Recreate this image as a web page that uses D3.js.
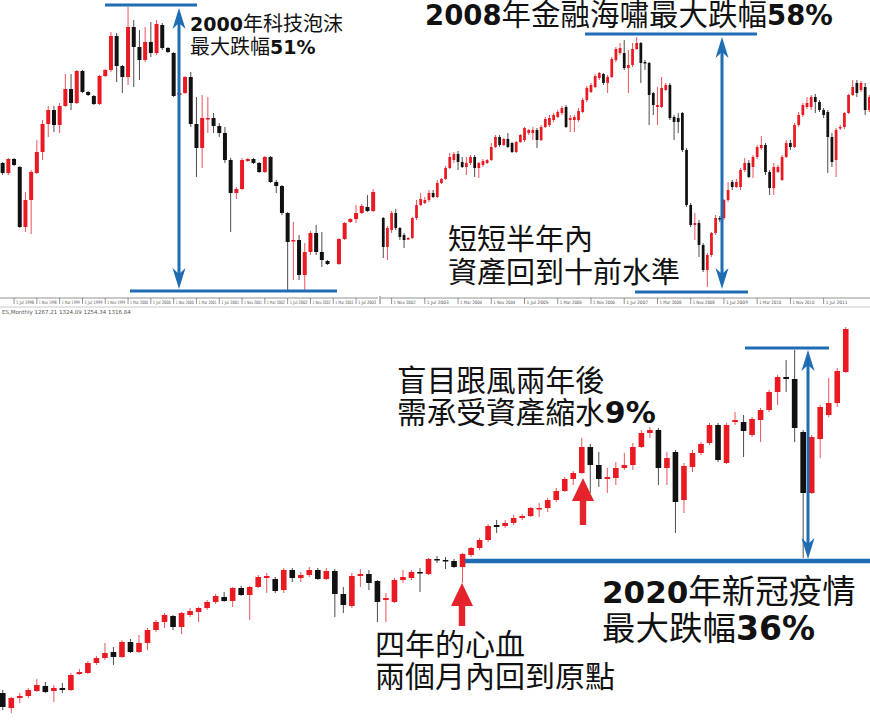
<!DOCTYPE html>
<html>
<head>
<meta charset="utf-8">
<script src="https://cdn.jsdelivr.net/npm/d3@7"></script>
<style>
  body { margin: 0; background: #fff; }
  svg { display: block; }
</style>
</head>
<body>
<svg id="chart" width="870" height="724"></svg>
<script>
// monthly candles [open, high, low, close]
// 1998-2003: dot-com bubble (first month May 1998)
const bubbleStart = [1998, 4];
const bubbleCandles = [
  [1111,1114,1075,1081],[1081,1126,1075,1123],[1123,1126,1102,1105],[1099,1102,916,919],
  [919,1024,904,1000],[1000,1090,898,1084],[1081,1180,1078,1144],[1144,1240,1120,1228],
  [1228,1282,1189,1270],[1270,1282,1204,1225],[1225,1291,1201,1282],[1282,1378,1279,1333],
  [1333,1378,1270,1291],[1291,1390,1288,1387],[1387,1390,1321,1324],[1324,1327,1312,1315],
  [1312,1315,1285,1288],[1288,1375,1285,1372],[1372,1393,1369,1390],[1390,1504,1384,1492],
  [1492,1501,1354,1402],[1402,1405,1321,1369],[1369,1579,1345,1519],[1519,1540,1339,1459],
  [1459,1510,1360,1420],[1420,1519,1414,1474],[1474,1534,1429,1441],[1441,1540,1435,1528],
  [1525,1531,1450,1456],[1456,1459,1441,1444],[1441,1444,1309,1312],[1315,1324,1312,1321],
  [1321,1372,1318,1369],[1369,1384,1219,1228],[1228,1309,1069,1156],[1156,1315,1096,1246],
  [1243,1309,1201,1246],[1246,1261,1201,1222],[1222,1231,1189,1201],[1201,1219,1111,1120],
  [1120,1126,904,1021],[1021,1039,1003,1033],[1033,1126,1030,1120],[1117,1126,1114,1123],
  [1123,1126,1108,1111],[1111,1114,1081,1084],[1084,1132,1081,1129],[1129,1132,1051,1054],
  [1054,1060,1021,1042],[1042,1045,955,961],[961,964,727,874],[877,934,760,880],
  [880,895,760,775],[775,871,730,844],[844,907,835,901],[901,925,835,844],
  [844,904,799,820],[817,820,805,808],null,[808,886,805,883],
  [883,934,880,931],[934,946,931,943],[943,985,931,961],[961,988,958,982],
  [979,1015,964,967],[967,1033,964,1024]
];

// 2002-2012: financial crisis (first month Sep 2002)
const crisisStart = [2002, 8];
const crisisCandles = [
  [946,949,826,859],[859,922,820,916],[910,967,901,961],[961,973,910,916],
  [916,919,880,889],[895,901,856,880],[883,889,880,886],[886,949,883,946],
  [946,1000,940,985],[985,1021,982,1003],[991,1009,988,1000],[1000,1030,994,1021],
  [1021,1030,1006,1009],[1009,1060,1006,1051],[1051,1066,1048,1063],[1063,1102,1060,1096],
  [1096,1141,1093,1129],[1120,1144,1111,1138],[1138,1147,1090,1114],[1114,1129,1096,1099],
  [1099,1129,1075,1111],[1111,1135,1105,1129],[1129,1135,1069,1096],[1096,1114,1066,1111],
  [1105,1123,1099,1117],[1111,1123,1108,1120],[1120,1171,1117,1159],[1159,1195,1156,1189],
  [1189,1195,1159,1165],[1165,1186,1162,1183],[1183,1201,1156,1159],[1171,1174,1141,1144],
  [1144,1177,1141,1174],[1174,1198,1171,1195],[1180,1219,1174,1216],[1201,1213,1195,1210],
  [1201,1219,1180,1210],[1210,1216,1156,1180],[1180,1225,1177,1219],[1219,1249,1216,1243],
  [1225,1255,1219,1246],[1240,1261,1234,1255],[1249,1270,1246,1264],[1261,1282,1255,1276],
  [1279,1285,1216,1219],[1240,1255,1204,1246],[1240,1255,1204,1249],[1240,1276,1234,1267],
  [1264,1306,1261,1300],[1300,1342,1294,1336],[1324,1351,1321,1345],[1339,1378,1336,1372],
  [1366,1384,1360,1381],[1378,1381,1345,1351],[1351,1375,1321,1369],[1369,1429,1366,1423],
  [1420,1459,1414,1453],[1441,1471,1435,1456],[1441,1480,1390,1396],[1396,1450,1321,1405],
  [1405,1471,1399,1453],[1453,1489,1450,1471],[1471,1474,1351,1411],[1414,1420,1390,1411],
  [1411,1414,1225,1315],[1321,1324,1255,1285],[1279,1339,1225,1285],[1279,1369,1276,1336],
  [1330,1351,1327,1345],[1345,1351,1240,1246],[1249,1255,1180,1234],[1246,1261,1201,1234],
  [1261,1264,1144,1150],[1150,1156,979,985],[985,991,919,925],[925,961,880,931],
  [931,940,829,865],[865,871,784,790],[790,841,739,835],[835,904,829,901],
  [901,955,895,946],[946,952,934,943],[946,1003,940,1000],[1000,1054,994,1030],
  [1054,1060,1030,1039],[1039,1063,1036,1054],[1039,1096,1030,1090],[1090,1126,1084,1111],
  [1111,1120,1066,1069],[1099,1135,1066,1129],[1129,1165,1123,1159],[1156,1192,1150,1165],
  [1165,1171,1075,1084],[1084,1090,1015,1036],[1036,1111,1015,1099],[1084,1105,1081,1099],
  [1060,1135,1057,1129],[1129,1180,1126,1171],[1171,1180,1150,1159],[1159,1231,1156,1225],
  [1225,1264,1219,1255],[1255,1291,1249,1285],[1279,1309,1273,1291],[1279,1315,1270,1309],
  [1309,1318,1261,1294],[1294,1300,1264,1270],[1270,1276,1246,1255],[1264,1270,1081,1189],
  [1189,1201,1099,1114],[1120,1216,1069,1210],[1216,1225,1210,1219],[1219,1264,1213,1261],
  [1261,1318,1258,1315],[1315,1360,1312,1339],[1351,1360,1309,1321],[1330,1357,1324,1351],
  [1339,1351,1255,1270],[1270,1315,1264,1309]
];

// 2012-2020: bull market and covid crash (first month May 2012)
const covidStart = [2012, 4];
const covidCandles = [
  [1335,1350,1250,1265],[1260,1315,1235,1310],[1310,1335,1285,1320],[1320,1360,1310,1350],
  [1345,1405,1340,1375],[1370,1390,1335,1340],[1345,1375,1290,1360],[1360,1385,1335,1350],
  [1350,1435,1345,1425],[1430,1455,1425,1440],[1435,1495,1430,1485],[1485,1520,1475,1510],
  [1510,1585,1500,1535],[1540,1565,1475,1515],[1515,1600,1510,1590],[1590,1605,1535,1540],
  [1540,1625,1535,1585],[1585,1660,1550,1650],[1650,1700,1640,1690],[1690,1735,1660,1725],
  [1720,1725,1650,1665],[1665,1740,1630,1735],[1725,1760,1715,1745],[1740,1765,1690,1760],
  [1760,1800,1750,1790],[1790,1830,1780,1820],[1815,1840,1790,1795],[1795,1865,1765,1860],
  [1860,1870,1820,1825],[1825,1870,1700,1865],[1865,1925,1860,1915],[1910,1935,1835,1920],
  [1905,1915,1835,1845],[1850,1960,1835,1950],[1950,1960,1890,1910],[1910,1940,1890,1925],
  [1925,1965,1915,1950],[1950,1960,1900,1905],[1905,1960,1900,1945],[1945,1955,1715,1830],
  [1830,1865,1735,1775],[1770,1935,1760,1920],[1920,1955,1865,1930],[1930,1950,1850,1885],
  [1895,1900,1690,1790],[1800,1835,1690,1810],[1790,1910,1785,1900],[1900,1950,1885,1915],
  [1910,1950,1900,1940],[1940,1960,1840,1935],[1930,2010,1925,2005],[2005,2020,1985,2000],
  [2000,2015,1955,1995],[1995,2005,1960,1965],[1965,2035,1885,2030],[2025,2065,2015,2060],
  [2060,2110,2050,2100],[2100,2180,2090,2170],[2175,2200,2135,2165],[2170,2200,2160,2185],
  [2185,2225,2175,2210],[2210,2230,2200,2220],[2220,2265,2215,2260],[2255,2285,2215,2260],
  [2260,2310,2240,2300],[2300,2360,2290,2345],[2345,2415,2340,2405],[2405,2445,2375,2435],
  [2435,2610,2430,2565],[2565,2580,2335,2475],[2475,2540,2365,2405],[2405,2460,2335,2415],
  [2410,2490,2375,2460],[2460,2535,2450,2475],[2475,2585,2450,2565],[2565,2650,2560,2635],
  [2635,2665,2610,2650],[2650,2660,2375,2460],[2460,2540,2375,2510],[2540,2550,2135,2290],
  [2300,2485,2235,2470],[2465,2550,2440,2535],[2535,2590,2525,2580],[2585,2685,2575,2675],
  [2675,2685,2490,2500],[2485,2685,2480,2675],[2690,2740,2675,2700],[2690,2725,2515,2645],
  [2625,2715,2615,2705],[2700,2760,2590,2750],[2750,2850,2740,2840],[2840,2925,2775,2915],
  [2915,3000,2840,2905],[2905,3050,2590,2660],[2640,2650,2010,2335],[2335,2625,2330,2615],
  [2605,2775,2510,2765],[2725,2910,2715,2785],[2785,2960,2765,2945],[2940,3165,2935,3155]
];

const monthNames = ["Jan","Feb","Mar","Apr","May","Jun","Jul","Aug","Sep","Oct","Nov","Dec"];
const chartInfo = "ES,Monthly  1267.21 1324.09 1254.34 1316.84";

const UP = "#ea1a22", DOWN = "#111", BLUE = "#1f6db3", ARROW_RED = "#e5232b";
const CJK = "'Noto Sans CJK TC', 'Noto Sans CJK SC', sans-serif";
const NUM = "'DejaVu Sans', Verdana, sans-serif";

const svg = d3.select("#chart");

function monthLabels(start, n) {
  return d3.range(n).map(i => {
    const d = new Date(start[0], start[1] + i, 1);
    return "1 " + monthNames[d.getMonth()] + " " + d.getFullYear();
  });
}

function drawCandles(candles, start, xr, yr, domain, bodyFrac, tickTest) {
  const labels = monthLabels(start, candles.length);
  const x = d3.scaleBand().domain(labels).range(xr).padding(0);
  const y = d3.scaleLinear().domain(domain).range(yr);
  const rows = candles.map((c, i) => c && { m: labels[i], o: c[0], h: c[1], l: c[2], c: c[3] }).filter(Boolean);
  const g = svg.append("g");
  const bw = x.bandwidth() * bodyFrac;
  const col = d => d.c >= d.o ? UP : DOWN;

  g.selectAll("line.wick").data(rows).join("line")
    .attr("class", "wick")
    .attr("x1", d => x(d.m) + x.bandwidth() / 2).attr("x2", d => x(d.m) + x.bandwidth() / 2)
    .attr("y1", d => y(d.h)).attr("y2", d => y(d.l))
    .attr("stroke", col).attr("stroke-width", 1).attr("stroke-opacity", 0.75);

  g.selectAll("rect.body").data(rows).join("rect")
    .attr("class", "body")
    .attr("x", d => x(d.m) + (x.bandwidth() - bw) / 2)
    .attr("width", bw)
    .attr("y", d => y(Math.max(d.o, d.c)))
    .attr("height", d => Math.max(1.5, Math.abs(y(d.o) - y(d.c))))
    .attr("fill", col);

  return { x, y, labels, tickTest };
}

function drawTimeAxis(p, x0, x1, labelW) {
  const ay = 298;
  const ticks = p.labels.filter((m, i) => p.tickTest(i) && p.x(m) + labelW < 870);
  const g = svg.append("g").attr("transform", `translate(0,${ay})`);
  g.append("line").attr("x1", x0).attr("x2", x1).attr("stroke", "#777").attr("stroke-width", 0.8);
  const t = g.selectAll("g.t").data(ticks).join("g")
    .attr("transform", m => `translate(${p.x(m) + p.x.bandwidth() / 2},0)`);
  t.append("line").attr("y1", 0).attr("y2", 6).attr("stroke", "#666").attr("stroke-width", 0.7);
  t.append("text").attr("x", 2).attr("y", 6).text(m => m)
    .attr("textLength", labelW).attr("lengthAdjust", "spacingAndGlyphs")
    .attr("font-family", "'DejaVu Sans', sans-serif").attr("font-size", 4.6).attr("fill", "#555");
}

// ---- panels ----
const bubble = drawCandles(bubbleCandles, bubbleStart, [-0.2, 376], [0, 300], [1600, 700], 0.7,
  i => i % 4 === 2);
const crisis = drawCandles(crisisCandles, crisisStart, [381.2, 871.4], [0, 300], [1600, 700], 0.66,
  i => (i - 2) % 8 === 0);
const covid = drawCandles(covidCandles, covidStart, [-1.5, 850], [320, 724], [3200, 1180], 0.66,
  () => false);

drawTimeAxis(bubble, 0, 378, 18);
drawTimeAxis(crisis, 381, 870, 22);
svg.append("line").attr("x1", 380).attr("x2", 380).attr("y1", 296).attr("y2", 304)
  .attr("stroke", "#555").attr("stroke-width", 0.8);
svg.append("line").attr("x1", 0).attr("x2", 870).attr("y1", 307).attr("y2", 307)
  .attr("stroke", "#bbb").attr("stroke-width", 0.8);
svg.append("text").attr("x", 2).attr("y", 314).text(chartInfo)
  .attr("font-family", "'DejaVu Sans', sans-serif").attr("font-size", 5.5).attr("fill", "#555");

// ---- annotations ----
function hline(x1, x2, yy, w) {
  svg.append("line").attr("x1", x1).attr("x2", x2).attr("y1", yy).attr("y2", yy)
    .attr("stroke", BLUE).attr("stroke-width", w);
}
function head(xx, yy, dir) {
  // dir -1 = pointing up, +1 = pointing down
  const L = 21, W = 6.5, N = 15;
  svg.append("path")
    .attr("d", `M${xx},${yy} L${xx + W},${yy - dir * L} L${xx},${yy - dir * N} L${xx - W},${yy - dir * L} Z`)
    .attr("fill", BLUE);
}
function doubleArrow(xx, yTop, yBot) {
  svg.append("line").attr("x1", xx).attr("x2", xx).attr("y1", yTop + 14).attr("y2", yBot - 14)
    .attr("stroke", BLUE).attr("stroke-width", 3);
  head(xx, yTop, -1);
  head(xx, yBot, 1);
}
function redArrow(xx, tip, bottom) {
  const hw = 11, hh = 23, sw = 3.2;
  svg.append("path")
    .attr("d", `M${xx},${tip} L${xx + hw},${tip + hh} L${xx + sw},${tip + hh} L${xx + sw},${bottom}
      L${xx - sw},${bottom} L${xx - sw},${tip + hh} L${xx - hw},${tip + hh} Z`)
    .attr("fill", ARROW_RED);
}
function label(xx, yy, parts, cjkSize, numSize) {
  const t = svg.append("text").attr("x", xx).attr("y", yy).attr("fill", "#111");
  parts.forEach(([s, kind]) => {
    t.append("tspan").text(s)
      .attr("font-family", kind === "n" ? NUM : CJK)
      .attr("font-weight", kind === "n" ? "bold" : "normal")
      .attr("font-size", kind === "n" ? numSize : cjkSize);
  });
}

// 2000
hline(105, 197, 5, 3);
hline(130, 337, 291, 3);
doubleArrow(179, 8, 289);
label(190, 31, [["2000", "n"], ["年科技泡沫", "c"]], 20, 19);
label(190, 54, [["最大跌幅", "c"], ["51%", "n"]], 20, 19);

// 2008
hline(585, 757, 34, 3);
hline(635, 748, 292, 3);
doubleArrow(722, 37, 289);
label(425, 25, [["2008", "n"], ["年金融海嘯最大跌幅", "c"], ["58%", "n"]], 29.5, 27.5);
label(448, 250, [["短短半年內", "c"]], 29, 29);
label(448, 283, [["資產回到十前水準", "c"]], 29, 29);

// 2016-2020
hline(745, 829, 348, 3);
hline(465, 870, 561, 4.5);
doubleArrow(808, 350, 559);
redArrow(462, 583, 626);
redArrow(583, 478, 525);
label(397, 391, [["盲目跟風兩年後", "c"]], 29.7, 30);
label(397, 423, [["需承受資產縮水", "c"], ["9%", "n"]], 29.7, 30);
label(375, 655, [["四年的心血", "c"]], 30, 30);
label(375, 687, [["兩個月內回到原點", "c"]], 30, 30);
label(602, 603, [["2020", "n"], ["年新冠疫情", "c"]], 33.5, 31);
label(602, 640, [["最大跌幅", "c"], ["36%", "n"]], 33.5, 33);
</script>
</body>
</html>
